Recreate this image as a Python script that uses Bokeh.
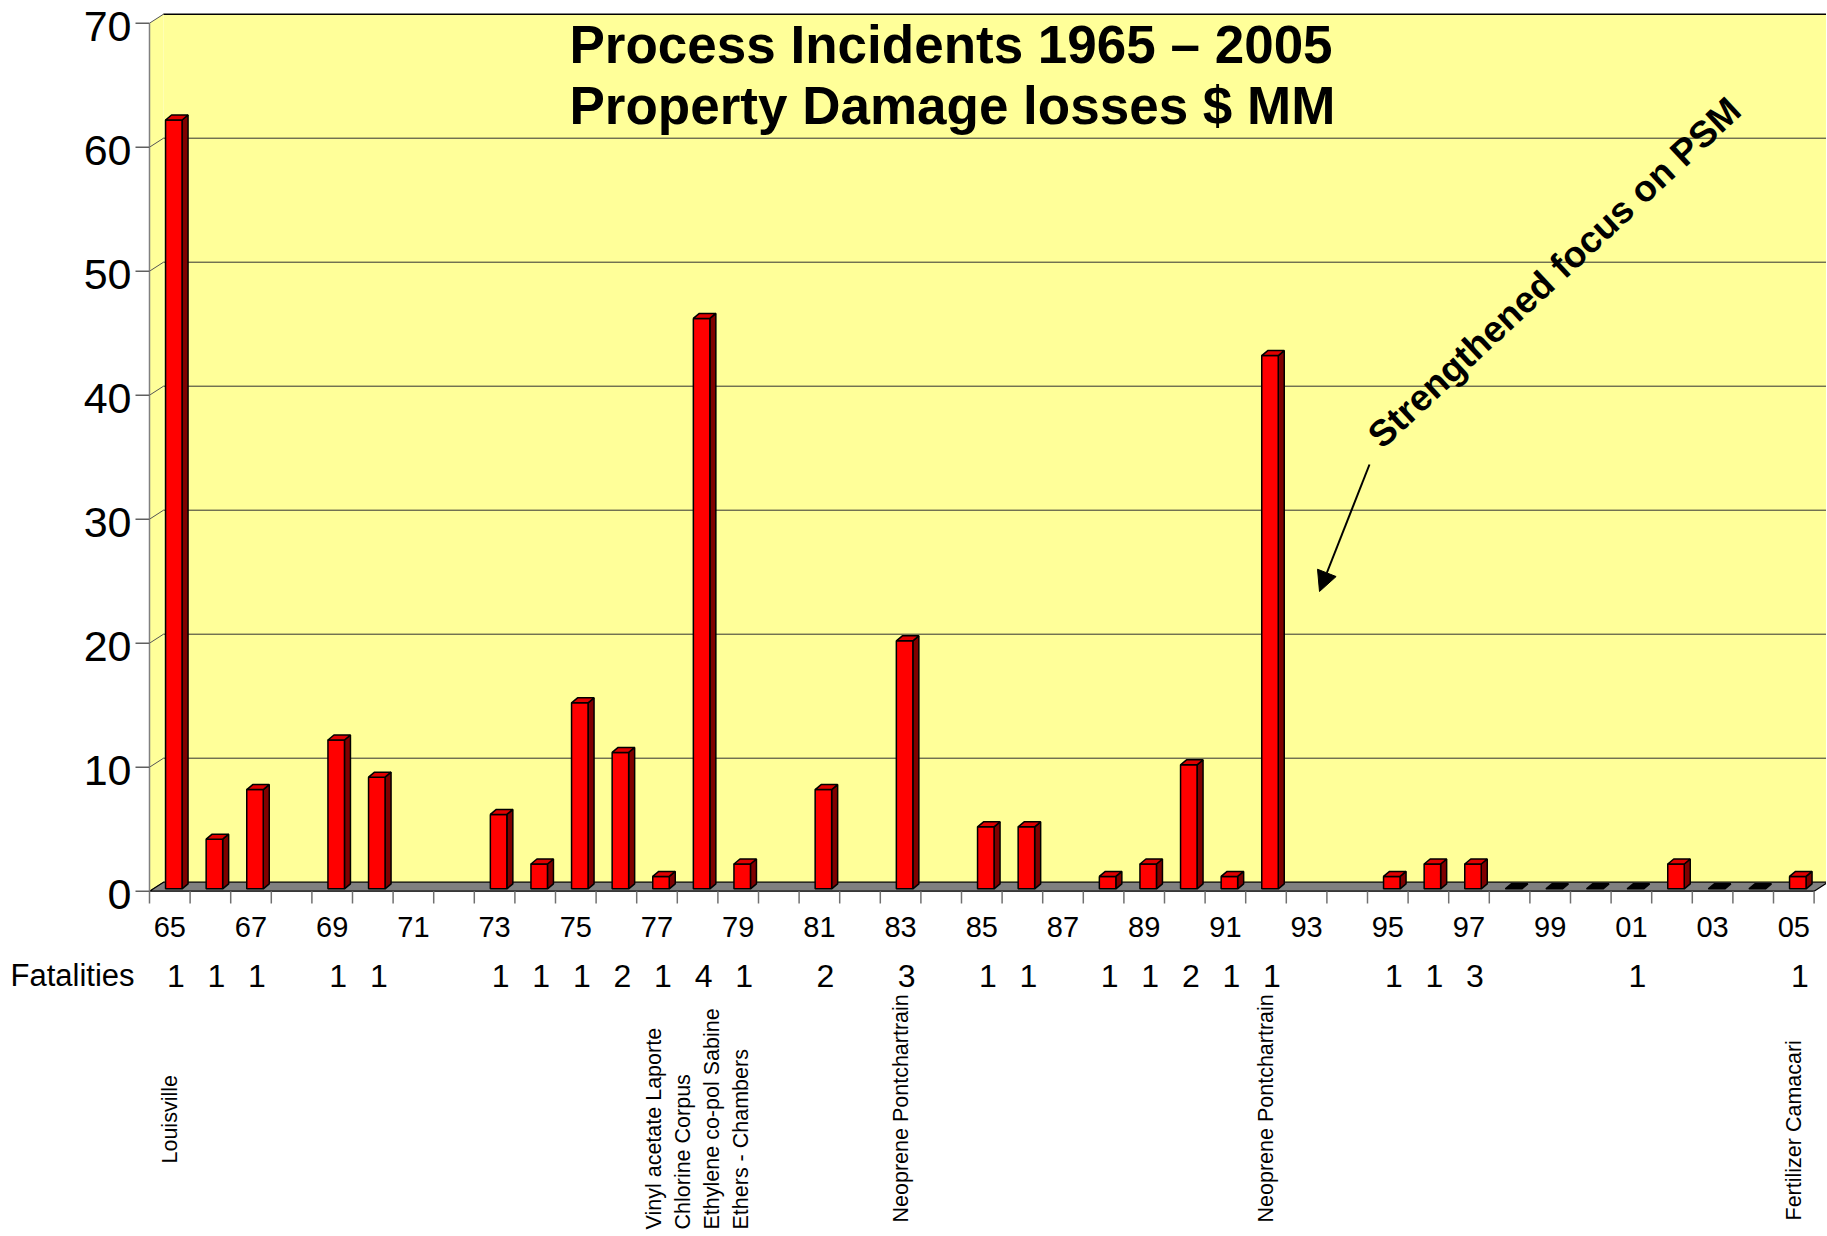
import math
from bokeh.plotting import figure
from bokeh.models import Range1d, Arrow, NormalHead
from bokeh.embed import file_html
from bokeh.resources import INLINE
from bokeh.core.properties import value

# ---------------- data ----------------
years = list(range(1965, 2006))
losses = [62, 4, 8, None, 12, 9, None, None, 6, 2,
          15, 11, 1, 46, 2, None, 8, None, 20, None,
          5, 5, None, 1, 2, 10, 1, 43, None, None,
          1, 2, 2, 0, 0, 0, 0, 2, 0, 0, 1]
year_tick_labels = ["65", "67", "69", "71", "73", "75", "77", "79", "81", "83", "85",
                    "87", "89", "91", "93", "95", "97", "99", "01", "03", "05"]
year_tick_years = [1965, 1967, 1969, 1971, 1973, 1975, 1977, 1979, 1981, 1983, 1985,
                   1987, 1989, 1991, 1993, 1995, 1997, 1999, 2001, 2003, 2005]
y_ticks = [0, 10, 20, 30, 40, 50, 60, 70]
y_tick_labels = ["0", "10", "20", "30", "40", "50", "60", "70"]
fatal_years = [1965, 1966, 1967, 1969, 1970, 1973, 1974, 1975, 1976, 1977, 1978, 1979,
               1981, 1983, 1985, 1986, 1988, 1989, 1990, 1991, 1992, 1995, 1996, 1997,
               2001, 2005]
fatal_counts = [1, 1, 1, 1, 1, 1, 1, 1, 2, 1, 4, 1,
                2, 3, 1, 1, 1, 1, 2, 1, 1, 1, 1, 3,
                1, 1]
loc_years = [1965, 1978, 1983, 1992, 2005]
loc_texts = ["Louisville",
             "Vinyl acetate Laporte\nChlorine Corpus\nEthylene co-pol Sabine\nEthers - Chambers",
             "Neoprene Pontchartrain",
             "Neoprene Pontchartrain",
             "Fertilizer Camacari"]
title_lines = ["Process Incidents 1965 \u2013 2005", "Property Damage losses $ MM"]
note_text = "Strengthened focus on PSM"
fatal_caption = "Fatalities"

# ---------------- layout (screen pixels) ----------------
FIG_W, FIG_H = 1826, 1234
AX_X = 149.0        # screen x of the value axis
ZERO_Y = 890.7      # screen y of value 0 (front plane)
PX_X = 40.6         # px per year
PX_Y = 12.4         # px per $MM
N = len(years)

def xd(sx):
    return (sx - AX_X) / PX_X

def yd(sy):
    return (ZERO_Y - sy) / PX_Y

BX, BY = 14 / PX_X, 9 / PX_Y          # depth of back wall
B_OFF = 4 / PX_X                       # bar front centre offset
B_W = 16.5 / PX_X                      # bar front width
B0 = 2.4 / PX_Y                        # bar base (mid depth)
SX, SY = 6 / PX_X, 5 / PX_Y            # bar depth

FONT = "Liberation Sans"
YELLOW = "#FFFF99"

p = figure(width=FIG_W, height=FIG_H,
           x_range=Range1d(xd(0), xd(FIG_W)),
           y_range=Range1d(yd(FIG_H), yd(0)),
           output_backend="svg", toolbar_location=None,
           x_axis_location=None, y_axis_location=None,
           min_border_left=0, min_border_right=0,
           min_border_top=0, min_border_bottom=0)
p.xgrid.visible = False
p.ygrid.visible = False
p.outline_line_color = None
p.background_fill_color = "white"
p.border_fill_color = "white"

ymax = y_ticks[-1]
# back wall and left wall
p.patch([BX, N + BX, N + BX, BX], [BY, BY, ymax + BY, ymax + BY],
        fill_color=YELLOW, line_color=None)
p.patch([0, BX, BX, 0], [0, BY, ymax + BY, ymax],
        fill_color=YELLOW, line_color=None)
# gridlines on the back wall + diagonals on the side wall
gv = [v for v in y_ticks if 0 < v < ymax]
p.segment(x0=[BX] * len(gv), y0=[v + BY for v in gv],
          x1=[N + BX] * len(gv), y1=[v + BY for v in gv],
          line_color="#333333", line_width=1)
p.segment(x0=[0] * len(y_ticks), y0=y_ticks,
          x1=[BX] * len(y_ticks), y1=[v + BY for v in y_ticks],
          line_color="#555555", line_width=1)
p.line([BX, N + BX], [ymax + BY, ymax + BY], line_color="black", line_width=1.5)

# floor
p.patch([0, N, N + BX, BX], [0, 0, BY, BY],
        fill_color="#808080", line_color="black", line_width=1.2)

# category ticks under the floor
p.segment(x0=list(range(N + 1)), y0=[0] * (N + 1),
          x1=list(range(N + 1)), y1=[yd(903)] * (N + 1),
          line_color="#707070", line_width=1.5)

# value axis (line, ticks, labels)
p.segment(x0=[0], y0=[0], x1=[0], y1=[ymax], line_color="#808080", line_width=1.5)
p.segment(x0=[xd(135)] * len(y_ticks), y0=y_ticks, x1=[0] * len(y_ticks), y1=y_ticks,
          line_color="#606060", line_width=1.5)
p.text(x=[xd(131)] * len(y_ticks), y=y_ticks, text=y_tick_labels,
       text_align="right", text_baseline="middle", y_offset=3,
       text_font=value(FONT), text_font_size="43px", text_color="black")

# bars
fl, fr, fb, ft = [], [], [], []
side_x, side_y, top_x, top_y, zero_x, zero_y = [], [], [], [], [], []
for i, v in enumerate(losses):
    if v is None:
        continue
    c = i + 0.5 + B_OFF
    l, r = c - B_W / 2, c + B_W / 2
    t = B0 + v
    tx = [l, r, r + SX, l + SX]
    ty = [t, t, t + SY, t + SY]
    if v == 0:
        zero_x.append(tx)
        zero_y.append(ty)
        continue
    fl.append(l); fr.append(r); fb.append(B0); ft.append(t)
    side_x.append([r, r + SX, r + SX, r])
    side_y.append([B0, B0 + SY, t + SY, t])
    top_x.append(tx)
    top_y.append(ty)

p.patches(side_x, side_y, fill_color="#800000", line_color="black", line_width=1.5)
p.quad(left=fl, right=fr, bottom=fb, top=ft,
       fill_color="#FF0000", line_color="black", line_width=1.5)
p.patches(top_x, top_y, fill_color="#E00000", line_color="black", line_width=1.5)
p.patches(zero_x, zero_y, fill_color="black", line_color="black", line_width=1.5)

# year labels
p.text(x=[(y - years[0]) + 0.5 for y in year_tick_years], y=[yd(926)] * len(year_tick_years),
       text=year_tick_labels, text_align="center", text_baseline="middle",
       text_font=value(FONT), text_font_size="29px", text_color="black")

# fatalities
p.text(x=[(y - years[0]) + 0.5 for y in fatal_years], y=[yd(975)] * len(fatal_years),
       text=[str(c) for c in fatal_counts], text_align="center", text_baseline="middle",
       x_offset=6, text_font=value(FONT), text_font_size="32px", text_color="black")
p.text(x=[xd(10)], y=[yd(975)], text=[fatal_caption], text_align="left",
       text_baseline="middle", text_font=value(FONT), text_font_size="31px",
       text_color="black")

# location labels (rotated)
loc_bottom = [1163, 1229, 1222, 1222, 1220]
p.text(x=[(y - years[0]) + 0.5 for y in loc_years], y=[yd(b) for b in loc_bottom],
       text=loc_texts, angle=math.pi / 2, text_align="left", text_baseline="middle",
       text_font=value(FONT), text_font_size="21.5px", text_color="black",
       text_line_height=1.2)

# title
p.text(x=[xd(569)] * 2, y=[yd(43.5), yd(105)], text=title_lines,
       text_align="left", text_baseline="middle",
       text_font=value(FONT), text_font_style="bold", text_font_size="53px",
       text_color="black")

# annotation
p.text(x=[xd(1554)], y=[yd(272)], text=[note_text], angle=math.radians(43),
       text_align="center", text_baseline="middle",
       text_font=value(FONT), text_font_style="bold", text_font_size="37px",
       text_color="black")
p.add_layout(Arrow(end=NormalHead(size=20, fill_color="black", line_color="black"),
                   x_start=xd(1369), y_start=yd(464), x_end=xd(1319), y_end=yd(591),
                   line_color="black", line_width=2))

open("out.html", "w").write(file_html(p, INLINE))
